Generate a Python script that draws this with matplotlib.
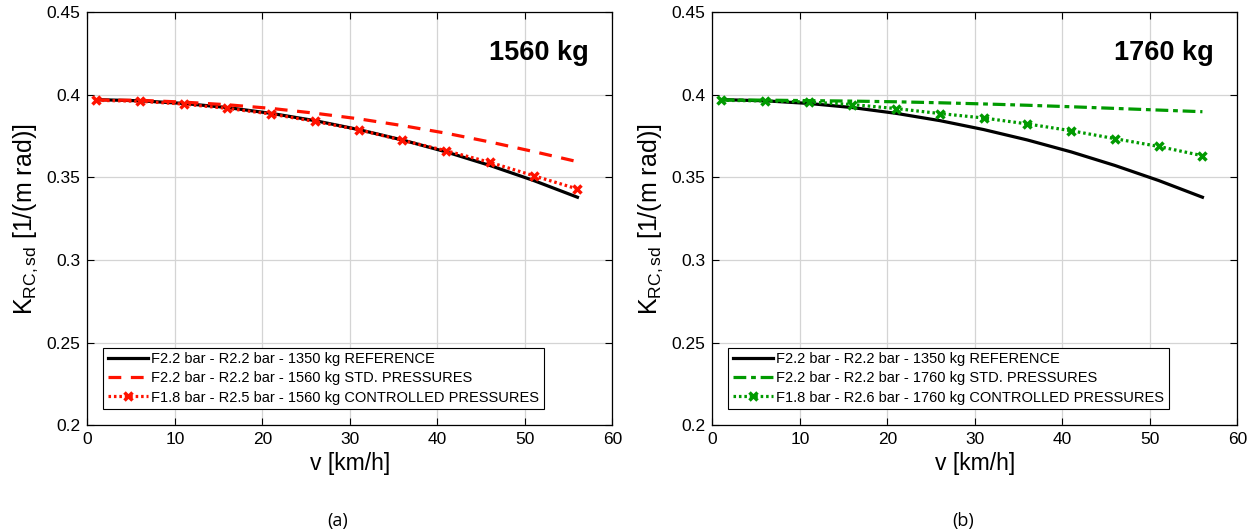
import matplotlib
matplotlib.use("Agg")
import matplotlib.pyplot as plt

plt.rcParams["font.family"] = ["Liberation Sans", "DejaVu Sans"]
plt.rcParams["mathtext.fontset"] = "custom"
plt.rcParams["mathtext.rm"] = "Liberation Sans"
plt.rcParams["mathtext.it"] = "Liberation Sans"

# speed samples [km/h]
v = [1, 6, 11, 16, 21, 26, 31, 36, 41, 46, 51, 56]

# reference curve, same in both panels
k_ref = [0.3970, 0.3963, 0.3947, 0.3922, 0.3887, 0.3843,
         0.3789, 0.3726, 0.3654, 0.3572, 0.3481, 0.3380]

# panel (a) 1560 kg
k_std_a = [0.3968, 0.3966, 0.3955, 0.3939, 0.3917, 0.3888,
           0.3854, 0.3813, 0.3767, 0.3714, 0.3656, 0.3595]
k_ctrl_a = [0.3966, 0.3960, 0.3943, 0.3917, 0.3883, 0.3838,
            0.3788, 0.3724, 0.3661, 0.3591, 0.3510, 0.3430]

# panel (b) 1760 kg
k_std_b = [0.3968, 0.3967, 0.3964, 0.3961, 0.3957, 0.3951,
           0.3944, 0.3936, 0.3927, 0.3917, 0.3907, 0.3897]
k_ctrl_b = [0.3966, 0.3962, 0.3956, 0.3940, 0.3916, 0.3886,
            0.3859, 0.3823, 0.3782, 0.3734, 0.3687, 0.3631]

labels_a = ["F2.2 bar - R2.2 bar - 1350 kg REFERENCE",
            "F2.2 bar - R2.2 bar - 1560 kg STD. PRESSURES",
            "F1.8 bar - R2.5 bar - 1560 kg CONTROLLED PRESSURES"]
labels_b = ["F2.2 bar - R2.2 bar - 1350 kg REFERENCE",
            "F2.2 bar - R2.2 bar - 1760 kg STD. PRESSURES",
            "F1.8 bar - R2.6 bar - 1760 kg CONTROLLED PRESSURES"]

yticks = [0.2, 0.25, 0.3, 0.35, 0.4, 0.45]
ytick_labels = ["0.2", "0.25", "0.3", "0.35", "0.4", "0.45"]
xticks = [0, 10, 20, 30, 40, 50, 60]

RED = "#ff1200"
GREEN = "#009a00"

fig = plt.figure(figsize=(12.55, 5.32), dpi=100)
ax_a = fig.add_axes([0.0697, 0.2002, 0.4183, 0.7773])
ax_b = fig.add_axes([0.5677, 0.2002, 0.4183, 0.7773])


def setup(ax, title, tag):
    ax.set_xlim(0, 60)
    ax.set_ylim(0.2, 0.45)
    ax.set_xticks(xticks)
    ax.set_yticks(yticks)
    ax.set_yticklabels(ytick_labels)
    ax.tick_params(direction="in", top=True, right=True, labelsize=12.5,
                   length=5, width=0.8, pad=5)
    ax.grid(True, color="#d4d4d4", linewidth=0.9)
    ax.set_axisbelow(True)
    for s in ax.spines.values():
        s.set_linewidth(0.9)
    ax.set_xlabel("v [km/h]", fontsize=16.5, labelpad=3)
    ax.set_ylabel(r"K$_{\mathrm{RC,sd}}$ [1/(m rad)]", fontsize=18, labelpad=5)
    ax.text(0.955, 0.90, title, transform=ax.transAxes, ha="right",
            va="center", fontsize=19.5, fontweight="bold")
    ax.text(0.477, -0.232, tag, transform=ax.transAxes, ha="center",
            va="center", fontsize=13, family=["Open Sans", "DejaVu Sans"])


ax_a.plot(v, k_ref, color="black", lw=2.3, label=labels_a[0])
ax_a.plot(v, k_std_a, color=RED, lw=2.3, ls=(0, (4, 3)), label=labels_a[1])
ax_a.plot(v, k_ctrl_a, color=RED, lw=2.3, ls=(0, (0.8, 0.9)), marker="x",
          ms=6, mew=2.5, label=labels_a[2])
setup(ax_a, "1560 kg", "(a)")

ax_b.plot(v, k_ref, color="black", lw=2.3, label=labels_b[0])
ax_b.plot(v, k_std_b, color=GREEN, lw=2.3, ls=(0, (4, 1.5, 1.5, 1.5)),
          label=labels_b[1])
ax_b.plot(v, k_ctrl_b, color=GREEN, lw=2.3, ls=(0, (0.8, 0.9)), marker="x",
          ms=6, mew=2.5, label=labels_b[2])
setup(ax_b, "1760 kg", "(b)")

for ax in (ax_a, ax_b):
    leg = ax.legend(loc="lower left", bbox_to_anchor=(0.03, 0.04),
                    fontsize=10.5, fancybox=False, framealpha=1,
                    edgecolor="black", borderpad=0.3, labelspacing=0.35,
                    handlelength=2.8, handletextpad=0.2, borderaxespad=0)
    leg.get_frame().set_linewidth(0.8)

fig.savefig("out.png", dpi=100)
